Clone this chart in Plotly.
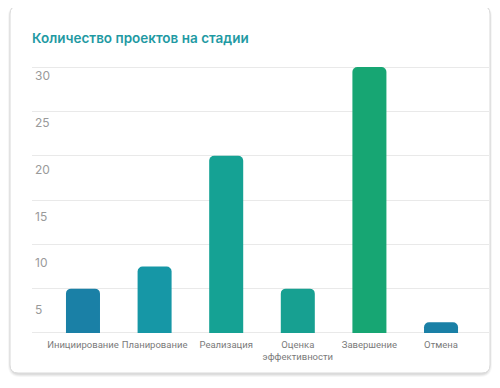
import plotly.graph_objects as go

# ---- data ----
stages = ["Инициирование", "Планирование", "Реализация", "Оценка<br>эффективности", "Завершение", "Отмена"]
projects = [5, 7.5, 20, 5, 30, 1.2]
bar_colors = ["#1a80a6", "#1697a6", "#15a294", "#17a091", "#17a673", "#1a80a6"]
y_ticks = [5, 10, 15, 20, 25, 30]
grid_ticks = [0, 5, 10, 15, 20, 25, 30]

# page body has an 8px margin, so the figure is drawn 8px in from the window edge
OFF = 8
W, H = 500 - OFF, 388 - OFF
L, R, T, B = 32 - OFF, 489 - OFF, 65 - OFF, 335 - OFF  # plot area in figure px

def px(x):
    return (x - OFF - L) / (R - L)

def py(y):
    return (B - (y - OFF)) / (B - T)

def rrect(x0, y0, x1, y1, r):
    pts = [
        f"M {px(x0 + r)} {py(y0)}",
        f"L {px(x1 - r)} {py(y0)}",
        f"Q {px(x1)} {py(y0)} {px(x1)} {py(y0 + r)}",
        f"L {px(x1)} {py(y1 - r)}",
        f"Q {px(x1)} {py(y1)} {px(x1 - r)} {py(y1)}",
        f"L {px(x0 + r)} {py(y1)}",
        f"Q {px(x0)} {py(y1)} {px(x0)} {py(y1 - r)}",
        f"L {px(x0)} {py(y0 + r)}",
        f"Q {px(x0)} {py(y0)} {px(x0 + r)} {py(y0)}",
        "Z",
    ]
    return " ".join(pts)

shapes = []
for i, op in enumerate([0.035, 0.045, 0.055]):
    d = 3 - i
    shapes.append(dict(type="path", xref="paper", yref="paper", layer="below",
                       path=rrect(10 - d + 1, 6 - d + 2, 490 + d - 1, 373 + d + 1, 9 + d),
                       fillcolor=f"rgba(0,0,0,{op})", line=dict(width=0)))
shapes.append(dict(type="path", xref="paper", yref="paper", layer="below",
                   path=rrect(10, 6, 490, 373, 8),
                   fillcolor="white", line=dict(color="#d8d8d8", width=1)))

fig = go.Figure()
fig.add_trace(go.Bar(
    x=list(range(len(stages))),
    y=projects,
    width=0.475,
    marker=dict(color=bar_colors, cornerradius=5, line=dict(width=0)),
    hoverinfo="skip",
))
# empty trace so the label axis is drawn
fig.add_trace(go.Scatter(x=[None], y=[None], yaxis="y2", mode="markers",
                         hoverinfo="skip", showlegend=False))

fig.update_layout(
    width=W, height=H,
    margin=dict(l=L, r=W - R, t=T, b=H - B, pad=0, autoexpand=False),
    paper_bgcolor="#ffffff",
    plot_bgcolor="rgba(0,0,0,0)",
    showlegend=False,
    font=dict(family="Inter, Roboto, sans-serif"),
    title=dict(text="Количество проектов на стадии", x=(32 - OFF) / W, xanchor="left",
               y=1 - (38 - OFF) / H, yanchor="middle",
               font=dict(size=13.5, color="#1f9aa3", family="Inter", weight=600)),
    shapes=shapes,
    xaxis=dict(range=[-0.712, 5.67], tickvals=list(range(len(stages))), ticktext=stages,
               tickangle=0, automargin=False, ticklabelstandoff=2,
               showgrid=False, zeroline=False, showline=False, ticks="",
               tickfont=dict(size=9.5, color="#7a7a7a", family="Roboto"), fixedrange=True),
    yaxis=dict(range=[-0.23, 30.23], tickvals=grid_ticks, showticklabels=False,
               showgrid=True, gridcolor="#e9e9e9", gridwidth=1,
               zeroline=False, showline=False, ticks=""),
    yaxis2=dict(overlaying="y", side="left", anchor="x", range=[2.329, 31.18],
                tickvals=y_ticks, ticklabelposition="inside", showgrid=False,
                zeroline=False, showline=False, ticks="", automargin=False,
                tickfont=dict(size=12, color="#9a9a9a")),
)

fig.write_html("out.html")
